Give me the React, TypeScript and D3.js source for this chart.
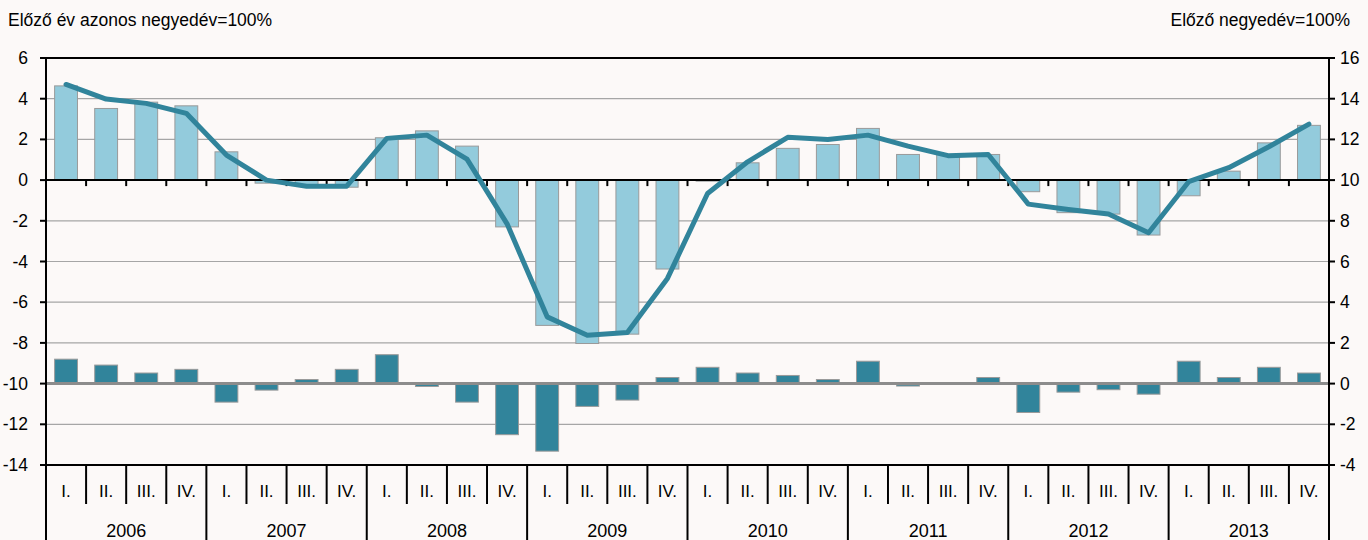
import React, { useEffect, useRef } from "react";
import * as d3 from "d3";

// Year-on-year index (same quarter of previous year = 100%), left axis
const years = ["2006", "2007", "2008", "2009", "2010", "2011", "2012", "2013"];
const quarters = ["I.", "II.", "III.", "IV."];

const yoyBars = [
  4.63, 3.52, 3.83, 3.65,
  1.39, -0.15, -0.22, -0.35,
  2.08, 2.42, 1.67, -2.3,
  -7.14, -8.03, -7.57, -4.37,
  -0.05, 0.85, 1.56, 1.75,
  2.54, 1.26, 1.25, 1.26,
  -0.57, -1.6, -1.67, -2.7,
  -0.77, 0.44, 1.83, 2.69,
];

const yoyLine = [
  4.7, 3.98, 3.77, 3.28,
  1.23, 0.0, -0.3, -0.3,
  2.05, 2.21, 1.03, -2.15,
  -6.72, -7.62, -7.49, -4.83,
  -0.66, 0.9, 2.1, 2.0,
  2.21, 1.67, 1.2, 1.26,
  -1.18, -1.44, -1.67, -2.59,
  -0.08, 0.61, 1.64, 2.75,
];

// Quarter-on-quarter change, right axis
const qoqBars = [
  1.2, 0.91, 0.52, 0.7,
  -0.91, -0.32, 0.2, 0.7,
  1.42, -0.14, -0.91, -2.51,
  -3.32, -1.12, -0.81, 0.3,
  0.8, 0.52, 0.4, 0.2,
  1.1, -0.12, 0.0, 0.3,
  -1.42, -0.42, -0.3, -0.52,
  1.1, 0.3, 0.8, 0.52,
];

const leftTicks = [-14, -12, -10, -8, -6, -4, -2, 0, 2, 4, 6];
const rightTicks = [-4, -2, 0, 2, 4, 6, 8, 10, 12, 14, 16];

const App = () => {
  const ref = useRef<SVGSVGElement>(null);

  useEffect(() => {
    const svg = d3.select(ref.current);
    svg.selectAll("*").remove();

    const W = 1368;
    const H = 540;
    const left = 46;
    const right = 1329;
    const top = 58;
    const bottom = 465;
    const font = "'Liberation Sans', Arial, sans-serif";

    svg.append("rect").attr("width", W).attr("height", H).attr("fill", "#fcf9f8");

    const idx = d3.range(yoyBars.length);
    const x = d3
      .scaleBand<number>()
      .domain(idx)
      .range([left, right])
      .paddingInner(0.43)
      .paddingOuter(0.215);
    const step = x.step();
    const yL = d3.scaleLinear().domain([-14, 6]).range([bottom, top]);
    const yR = d3.scaleLinear().domain([-4, 16]).range([bottom, top]);

    // gridlines
    svg
      .append("g")
      .selectAll("line")
      .data(leftTicks.filter((t) => t !== 6 && t !== 0 && t !== -10 && t !== -14))
      .join("line")
      .attr("x1", left)
      .attr("x2", right)
      .attr("y1", (d) => yL(d))
      .attr("y2", (d) => yL(d))
      .attr("stroke", "#a6a6a6")
      .attr("stroke-width", 1.2);

    // light bars (left axis)
    svg
      .append("g")
      .selectAll("rect")
      .data(yoyBars)
      .join("rect")
      .attr("x", (d, i) => x(i)!)
      .attr("width", x.bandwidth())
      .attr("y", (d) => yL(Math.max(0, d)))
      .attr("height", (d) => Math.abs(yL(d) - yL(0)))
      .attr("fill", "#93cbdc")
      .attr("stroke", "#9a9a9a")
      .attr("stroke-width", 1);

    // dark bars (right axis)
    svg
      .append("g")
      .selectAll("rect")
      .data(qoqBars)
      .join("rect")
      .attr("x", (d, i) => x(i)!)
      .attr("width", x.bandwidth())
      .attr("y", (d) => yR(Math.max(0, d)))
      .attr("height", (d) => Math.abs(yR(d) - yR(0)))
      .attr("fill", "#31849b")
      .attr("stroke", "#9a9a9a")
      .attr("stroke-width", 1);

    // right-axis zero baseline
    svg
      .append("line")
      .attr("x1", left)
      .attr("x2", right)
      .attr("y1", yR(0))
      .attr("y2", yR(0))
      .attr("stroke", "#8c8c8c")
      .attr("stroke-width", 3);

    // top border
    svg
      .append("line")
      .attr("x1", left)
      .attr("x2", right)
      .attr("y1", top)
      .attr("y2", top)
      .attr("stroke", "#000")
      .attr("stroke-width", 2);

    // zero line with quarter ticks
    svg
      .append("line")
      .attr("x1", left)
      .attr("x2", right)
      .attr("y1", yL(0))
      .attr("y2", yL(0))
      .attr("stroke", "#000")
      .attr("stroke-width", 2);
    svg
      .append("g")
      .selectAll("line")
      .data(idx.slice(1))
      .join("line")
      .attr("x1", (i) => x(i)! - (step - x.bandwidth()) / 2)
      .attr("x2", (i) => x(i)! - (step - x.bandwidth()) / 2)
      .attr("y1", yL(0))
      .attr("y2", yL(0) + 6)
      .attr("stroke", "#000")
      .attr("stroke-width", 2);

    // line (left axis)
    const line = d3
      .line<number>()
      .x((d, i) => x(i)! + x.bandwidth() / 2)
      .y((d) => yL(d));
    svg
      .append("path")
      .datum(yoyLine)
      .attr("d", line)
      .attr("fill", "none")
      .attr("stroke", "#31849b")
      .attr("stroke-width", 5)
      .attr("stroke-linejoin", "round")
      .attr("stroke-linecap", "round");

    // bottom axis line and category table
    svg
      .append("line")
      .attr("x1", left)
      .attr("x2", right)
      .attr("y1", bottom)
      .attr("y2", bottom)
      .attr("stroke", "#000")
      .attr("stroke-width", 2);

    const boundary = (i: number) => left + i * step;
    svg
      .append("g")
      .selectAll("line")
      .data(idx.filter((i) => i % 4 !== 0))
      .join("line")
      .attr("x1", (i) => boundary(i))
      .attr("x2", (i) => boundary(i))
      .attr("y1", bottom)
      .attr("y2", bottom + 39)
      .attr("stroke", "#000")
      .attr("stroke-width", 2);
    svg
      .append("g")
      .selectAll("line")
      .data(d3.range(years.length + 1))
      .join("line")
      .attr("x1", (j) => boundary(j * 4))
      .attr("x2", (j) => boundary(j * 4))
      .attr("y1", bottom)
      .attr("y2", H)
      .attr("stroke", "#000")
      .attr("stroke-width", 2);

    svg
      .append("g")
      .selectAll("text")
      .data(idx)
      .join("text")
      .attr("x", (i) => x(i)! + x.bandwidth() / 2)
      .attr("y", bottom + 32)
      .attr("text-anchor", "middle")
      .attr("font-family", font)
      .attr("font-size", 17)
      .text((i) => quarters[i % 4]);

    svg
      .append("g")
      .selectAll("text")
      .data(years)
      .join("text")
      .attr("x", (d, j) => boundary(j * 4) + step * 2)
      .attr("y", bottom + 72)
      .attr("text-anchor", "middle")
      .attr("font-family", font)
      .attr("font-size", 18)
      .text((d) => d);

    // left axis
    svg
      .append("line")
      .attr("x1", left)
      .attr("x2", left)
      .attr("y1", top)
      .attr("y2", H)
      .attr("stroke", "#000")
      .attr("stroke-width", 2);
    const la = svg.append("g");
    la.selectAll("line")
      .data(leftTicks)
      .join("line")
      .attr("x1", left - 6)
      .attr("x2", left)
      .attr("y1", (d) => yL(d))
      .attr("y2", (d) => yL(d))
      .attr("stroke", "#000")
      .attr("stroke-width", 2);
    la.selectAll("text")
      .data(leftTicks)
      .join("text")
      .attr("x", 28)
      .attr("y", (d) => yL(d) + 6)
      .attr("text-anchor", "end")
      .attr("font-family", font)
      .attr("font-size", 17.5)
      .text((d) => d);

    // right axis
    svg
      .append("line")
      .attr("x1", right)
      .attr("x2", right)
      .attr("y1", top)
      .attr("y2", H)
      .attr("stroke", "#000")
      .attr("stroke-width", 2);
    const ra = svg.append("g");
    ra.selectAll("line")
      .data(rightTicks)
      .join("line")
      .attr("x1", right)
      .attr("x2", right + 6)
      .attr("y1", (d) => yR(d))
      .attr("y2", (d) => yR(d))
      .attr("stroke", "#000")
      .attr("stroke-width", 2);
    ra.selectAll("text")
      .data(rightTicks)
      .join("text")
      .attr("x", 1340)
      .attr("y", (d) => yR(d) + 6)
      .attr("text-anchor", "start")
      .attr("font-family", font)
      .attr("font-size", 17.5)
      .text((d) => d);

    // axis titles
    svg
      .append("text")
      .attr("x", 8)
      .attr("y", 26)
      .attr("font-family", font)
      .attr("font-size", 17.5)
      .text("Előző év azonos negyedév=100%");
    svg
      .append("text")
      .attr("x", 1350)
      .attr("y", 26)
      .attr("text-anchor", "end")
      .attr("font-family", font)
      .attr("font-size", 17.5)
      .text("Előző negyedév=100%");
  }, []);

  return (
    <svg
      ref={ref}
      width={1368}
      height={540}
      style={{ position: "absolute", left: 0, top: 0, display: "block" }}
    />
  );
};

export default App;
